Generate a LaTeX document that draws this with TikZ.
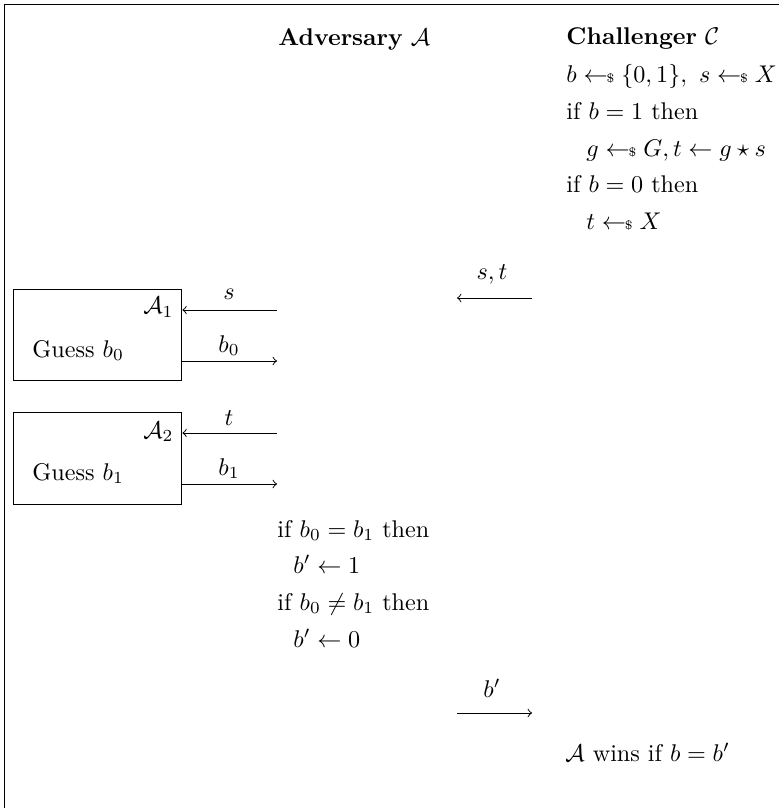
\documentclass[tikz,border=0pt]{standalone}
\usepackage{amsmath,amssymb}
\newcommand{\smp}{\mathrel{\leftarrow\!\!\mbox{\tiny\$}}}
\begin{document}
\begin{tikzpicture}[x=0.414pt,y=-0.414pt,
  txt/.style={anchor=base west,inner sep=0pt},
  lbl/.style={anchor=base,inner sep=0pt},
  msg/.style={line width=0.4pt,->},
  box/.style={draw,line width=0.4pt,minimum width=69.9pt,minimum height=37.8pt,inner sep=0pt}]
\useasboundingbox (0,0) rectangle (779,808);
% frame
\coordinate (fTL) at (4.5,4.5);
\coordinate (fTR) at (779,4.5);
\coordinate (fBL) at (4.5,808);
\draw[line width=0.5pt] (fTR) -- (fTL) -- (fBL);
% headers
\node[txt] (hA) at (278,46) {\textbf{Adversary} $\mathcal{A}$};
\node[txt] (hC) at (566,45) {\textbf{Challenger} $\mathcal{C}$};
% challenger code
\node[txt] (c1) at (566,83) {$b \smp \{0,1\},\ s \smp X$};
\node[txt] (c2) at (566,120) {if $b = 1$ then};
\node[txt] (c3) at (586,157) {$g \smp G, t \leftarrow g \star s$};
\node[txt] (c4) at (566,193) {if $b = 0$ then};
\node[txt] (c5) at (586,230) {$t \smp X$};
% s,t message
\coordinate (stR) at (532,298);
\coordinate (stL) at (457,298);
\draw[msg] (stR) -- (stL);
\node[lbl] (stl) at (492,280) {$s,t$};
% boxes
\node[box] (A1) at (97.5,335) {};
\node[box] (A2) at (97.5,458.5) {};
\node[anchor=base east,inner sep=0pt] (A1l) at (174,314) {$\mathcal{A}_1$};
\node[anchor=base east,inner sep=0pt] (A2l) at (174,438) {$\mathcal{A}_2$};
\node[txt] (g0) at (32,357) {Guess $b_0$};
\node[txt] (g1) at (32,480) {Guess $b_1$};
% arrows to/from boxes
\coordinate (sR) at (277,310);
\coordinate (b0R) at (277,361);
\coordinate (tR) at (277,433);
\coordinate (b1R) at (277,484);
\draw[msg] (sR) -- (A1.east |- sR);
\draw[msg] (A1.east |- b0R) -- (b0R);
\draw[msg] (tR) -- (A2.east |- tR);
\draw[msg] (A2.east |- b1R) -- (b1R);
\node[lbl] (sl) at (229,300) {$s$};
\node[lbl] (b0l) at (229,352) {$b_0$};
\node[lbl] (tl) at (229,425) {$t$};
\node[lbl] (b1l) at (229,475) {$b_1$};
% adversary decision
\node[txt] (a1) at (277,537) {if $b_0 = b_1$ then};
\node[txt] (a2) at (293,573) {$b' \leftarrow 1$};
\node[txt] (a3) at (277,610) {if $b_0 \neq b_1$ then};
\node[txt] (a4) at (293,647) {$b' \leftarrow 0$};
% b' message
\coordinate (bpL) at (457,713);
\coordinate (bpR) at (532,713);
\draw[msg] (bpL) -- (bpR);
\node[lbl] (bpl) at (492,697) {$b'$};
% result
\node[txt] (win) at (565,761) {$\mathcal{A}$ wins if $b = b'$};
\end{tikzpicture}
\end{document}
